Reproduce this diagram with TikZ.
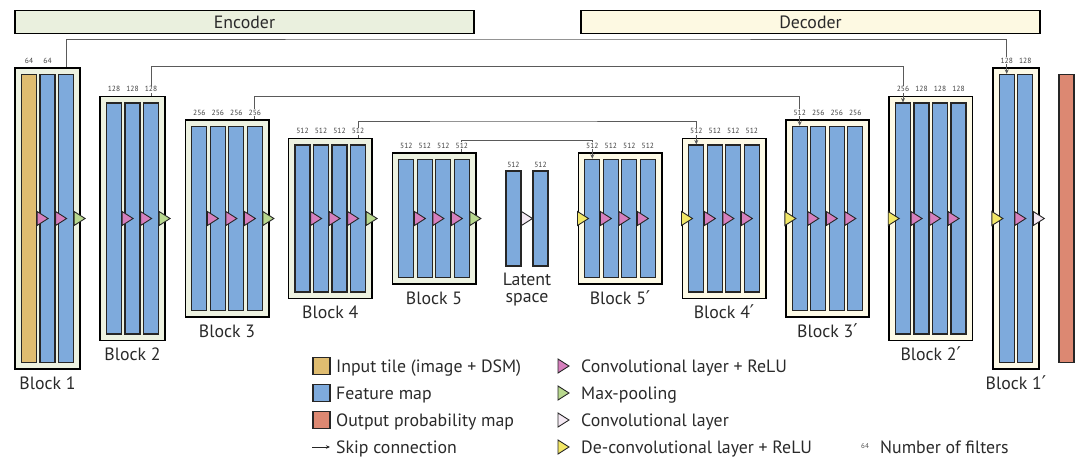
\documentclass[tikz,border=0pt]{standalone}
\usepackage{fontspec}
\setmainfont{PT Sans}
\newfontfamily\primefont{DejaVu Sans}
\usetikzlibrary{arrows.meta,calc}
\definecolor{tanfill}{HTML}{DFBC70}
\definecolor{fmblue}{HTML}{7EAADC}
\definecolor{outred}{HTML}{DC8872}
\definecolor{encfill}{HTML}{EDF2E1}
\definecolor{decfill}{HTML}{FDFAE6}
\definecolor{encbar}{HTML}{EAF0DE}
\definecolor{decbar}{HTML}{FDF9E2}
\definecolor{convpink}{HTML}{D67FBD}
\definecolor{poolgreen}{HTML}{B8D88E}
\definecolor{deconvyellow}{HTML}{F2E766}
\definecolor{convwhite}{HTML}{F4E9F3}
\definecolor{skipgray}{HTML}{5A5A5A}
\definecolor{txt}{HTML}{2A2A2A}
\newcommand\pr{{\primefont\fontsize{19}{19}\selectfont ′}}
\tikzset{
 blockframe/.style={draw=black, line width=1.6pt, inner sep=0pt},
 fmap/.style={draw=black!85, line width=1.2pt, fill=fmblue, inner sep=0pt, minimum width=15pt},
 trimark/.style={draw=black!85, line width=0.9pt, line join=miter},
 skipline/.style={draw=skipgray, line width=0.9pt, -{Stealth[length=4.5pt,width=4pt]}},
 numlab/.style={font=\fontsize{7.5}{8}\selectfont, text=black!75, fill=white, inner sep=0.6pt},
 blocklab/.style={font=\fontsize{17.8}{16.7}\selectfont, text=txt, inner sep=0pt},
 titlebar/.style={draw=black, line width=1.5pt, minimum width=459pt, minimum height=23pt, inner sep=0pt, font=\fontsize{17.8}{17}\selectfont, text=txt},
 legsq/.style={draw=black!85, line width=1.2pt, minimum width=17pt, minimum height=17pt, inner sep=0pt},
 legtext/.style={font=\fontsize{17.8}{17}\selectfont, text=txt, inner sep=0pt, anchor=base west},
}
% #1 name, #2 left x, #3 frame half height, #4 bars, #5 frame fill, #6 first bar fill
\newcommand\myblock[6]{%
  \pgfmathsetmacro\fw{13+#4*15+(#4-1)*3.5}%
  \pgfmathsetmacro\fh{2*#3}%
  \pgfmathsetmacro\bh{2*(#3-6.5)}%
  \node[blockframe, fill=#5, minimum width=\fw pt, minimum height=\fh pt] (#1) at ({#2+\fw/2},218.5) {};%
  \foreach \i in {1,...,#4}{%
    \pgfmathsetmacro\bx{#2+14+(\i-1)*18.5}%
    \ifnum\i=1 \def\myfill{#6}\else\def\myfill{fmblue}\fi
    \node[fmap, fill=\myfill, minimum height=\bh pt] (#1-\i) at (\bx,218.5) {};
  }%
}
\newcommand\mylabels[2]{%
  \foreach \t [count=\i] in {#2}{%
    \node[numlab, yshift=6.5pt] at (#1-\i.north |- #1.north) {\t};
  }%
}
\newcommand\mytri[2]{\draw[trimark, fill=#1] (#2) ++(0,-7) -- ++(11,7) -- ++(-11,7) -- cycle;}
\begin{document}
\begin{tikzpicture}[x=1pt,y=-1pt]
\useasboundingbox (0,0) rectangle (1079,456);
% title bars
\node[titlebar, fill=encbar] (enc) at (244.5,22.2) {Encoder};
\node[titlebar, fill=decbar] (dec) at (810.5,22.2) {Decoder};
% encoder blocks
\myblock{b1}{15}{150.5}{3}{encfill}{tanfill}
\myblock{b2}{100}{122}{3}{encfill}{fmblue}
\myblock{b3}{185.3}{98.7}{4}{encfill}{fmblue}
\myblock{b4}{288.5}{80}{4}{encfill}{fmblue}
\myblock{b5}{392.3}{65.7}{4}{encfill}{fmblue}
% latent
\node[fmap, minimum height=95pt] (lat-1) at (513.4,218.5) {};
\node[fmap, minimum height=95pt] (lat-2) at (540.5,218.5) {};
% decoder blocks
\myblock{d5}{578.3}{65.7}{4}{decfill}{fmblue}
\myblock{d4}{682.3}{80}{4}{decfill}{fmblue}
\myblock{d3}{785.7}{98.7}{4}{decfill}{fmblue}
\myblock{d2}{889}{122}{4}{decfill}{fmblue}
\myblock{d1}{992.7}{150.5}{2}{decfill}{fmblue}
% output
\node[fmap, fill=outred, minimum height=288pt] (out) at (1066.5,218.5) {};
% skip connections
\coordinate (s1) at (500,39);
\coordinate (s2) at (500,66.7);
\coordinate (s3) at (500,96.7);
\coordinate (s4) at (500,121);
\coordinate (s5) at (500,140.5);
\draw[skipline] (b1-3.north |- b1.north) |- (s1) -| (d1-1.north);
\draw[skipline] (b2-3.north |- b2.north) |- (s2) -| (d2-1.north);
\draw[skipline] (b3-4.north |- b3.north) |- (s3) -| (d3-1.north);
\draw[skipline] (b4-4.north |- b4.north) |- (s4) -| (d4-1.north);
\draw[skipline] (b5-4.north |- b5.north) |- (s5) -| (d5-1.north);
% filter numbers
\mylabels{b1}{64,64}
\mylabels{b2}{128,128,128}
\mylabels{b3}{256,256,256,256}
\mylabels{b4}{512,512,512,512}
\mylabels{b5}{512,512,512,512}
\node[numlab] at ($(lat-1.north)+(0,-6)$) {512};
\node[numlab] at ($(lat-2.north)+(0,-6)$) {512};
\mylabels{d5}{512,512,512,512}
\mylabels{d4}{512,512,512,512}
\mylabels{d3}{512,256,256,256}
\mylabels{d2}{256,128,128,128}
\mylabels{d1}{128,128}
% triangles encoder
\mytri{convpink}{b1-1.east}\mytri{convpink}{b1-2.east}\mytri{poolgreen}{b1-3.east}
\mytri{convpink}{b2-1.east}\mytri{convpink}{b2-2.east}\mytri{poolgreen}{b2-3.east}
\foreach \b in {b3,b4,b5}{
  \mytri{convpink}{\b-1.east}\mytri{convpink}{\b-2.east}\mytri{convpink}{\b-3.east}\mytri{poolgreen}{\b-4.east}
}
\mytri{convwhite}{lat-1.east}
% triangles decoder
\foreach \b in {d5,d4,d3,d2}{
  \mytri{deconvyellow}{\b.west}\mytri{convpink}{\b-1.east}\mytri{convpink}{\b-2.east}\mytri{convpink}{\b-3.east}
}
\mytri{deconvyellow}{d1.west}\mytri{convpink}{d1-1.east}\mytri{convwhite}{d1-2.east}
% block labels
\node[blocklab, anchor=base] at ($(b1.south)+(0,19.8)$) {Block 1};
\node[blocklab, anchor=base] at ($(b2.south)+(0,19)$) {Block 2};
\node[blocklab, anchor=base] at ($(b3.south)+(0,19)$) {Block 3};
\node[blocklab, anchor=base] at ($(b4.south)+(0,19)$) {Block 4};
\node[blocklab, anchor=base] at ($(b5.south)+(0,19)$) {Block 5};
\node[blocklab, align=center, anchor=north] at (527,273.3) {Latent\\space};
\node[blocklab, anchor=base] at ($(d5.south)+(0,19)$) {Block 5\pr};
\node[blocklab, anchor=base] at ($(d4.south)+(0,19)$) {Block 4\pr};
\node[blocklab, anchor=base] at ($(d3.south)+(0,19)$) {Block 3\pr};
\node[blocklab, anchor=base] at ($(d2.south)+(0,19)$) {Block 2\pr};
\node[blocklab, anchor=base] at ($(d1.south)+(0,19.8)$) {Block 1\pr};
% legend
\node[legsq, fill=tanfill] (lq1) at (321.5,366) {};
\node[legsq, fill=fmblue] (lq2) at (321.5,393) {};
\node[legsq, fill=outred] (lq3) at (321.5,420) {};
\coordinate (la1) at (312,447);
\coordinate (la2) at (330,447);
\draw[black!85, line width=0.8pt, -{Stealth[length=4pt,width=3.5pt]}] (la1) -- (la2);
\node[legtext] at (336,372) {Input tile (image + DSM)};
\node[legtext] at (336,399) {Feature map};
\node[legtext] at (336,426) {Output probability map};
\node[legtext] at (336,453) {Skip connection};
\mytri{convpink}{558,366}
\mytri{poolgreen}{558,393}
\mytri{convwhite}{558,420}
\mytri{deconvyellow}{558,447}
\node[legtext] at (581,372) {Convolutional layer + ReLU};
\node[legtext] at (581,399) {Max-pooling};
\node[legtext] at (581,426) {Convolutional layer};
\node[legtext] at (581,453) {De-convolutional layer + ReLU};
\node[font=\fontsize{7}{7}\selectfont, text=black!70, inner sep=0pt] at (865,446) {64};
\node[legtext] at (880,453) {Number of filters};
\end{tikzpicture}
\end{document}
